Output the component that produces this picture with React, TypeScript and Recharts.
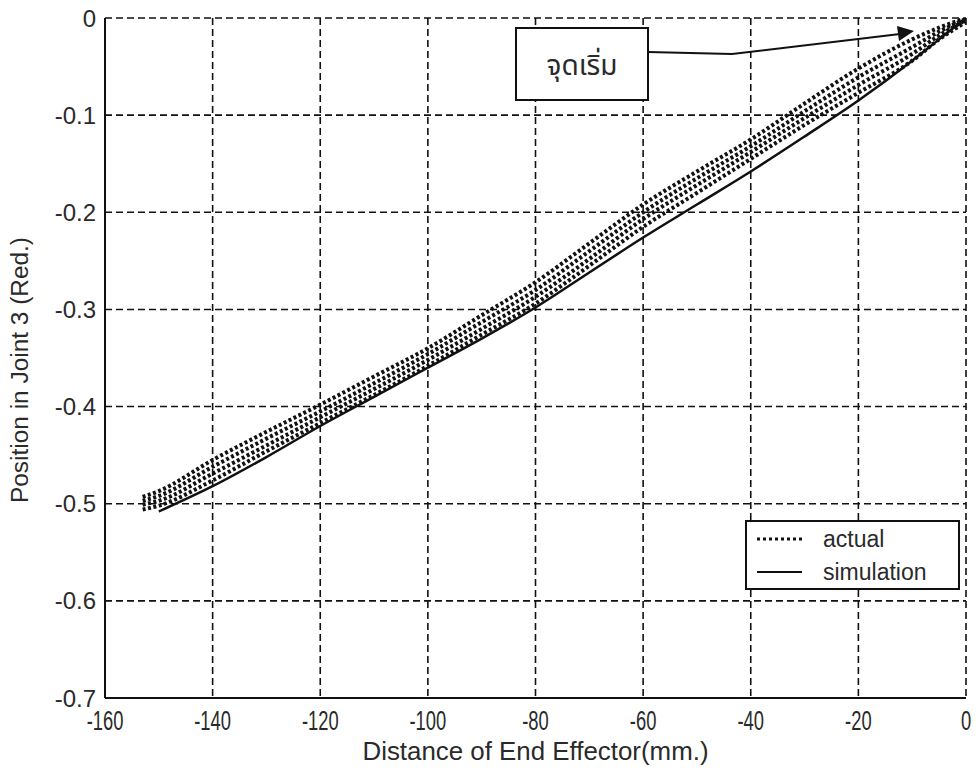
import { LineChart, Line, XAxis, YAxis, CartesianGrid, Legend, Label } from 'recharts';

// axis ticks
const X_TICKS = [-160, -140, -120, -100, -80, -60, -40, -20, 0];
const Y_TICKS = [-0.7, -0.6, -0.5, -0.4, -0.3, -0.2, -0.1, 0];

// measured joint 3 position, four passes over the same path
const ACTUAL_X = [-153, -150, -140, -130, -120, -110, -100, -90, -80, -70, -60, -50, -40, -30, -20, -10, -5, 0];
const ACTUAL_RUN_1 = [-0.493, -0.487, -0.455, -0.426, -0.398, -0.369, -0.340, -0.306, -0.272, -0.232, -0.192, -0.158, -0.125, -0.088, -0.052, -0.022, -0.010, 0];
const ACTUAL_RUN_2 = [-0.497, -0.492, -0.462, -0.433, -0.405, -0.376, -0.346, -0.313, -0.280, -0.240, -0.200, -0.165, -0.132, -0.096, -0.061, -0.030, -0.014, -0.001];
const ACTUAL_RUN_3 = [-0.501, -0.497, -0.469, -0.440, -0.411, -0.382, -0.352, -0.320, -0.287, -0.248, -0.207, -0.172, -0.138, -0.103, -0.069, -0.037, -0.018, -0.002];
const ACTUAL_RUN_4 = [-0.506, -0.502, -0.476, -0.446, -0.417, -0.388, -0.358, -0.326, -0.294, -0.255, -0.215, -0.180, -0.145, -0.110, -0.077, -0.044, -0.022, -0.004];

// simulated joint 3 position
const SIM_X = [-150, -140, -130, -120, -110, -100, -90, -80, -70, -60, -50, -40, -30, -20, -10, -5, 0];
const SIM_Y = [-0.508, -0.482, -0.452, -0.420, -0.390, -0.360, -0.330, -0.298, -0.262, -0.226, -0.192, -0.158, -0.122, -0.085, -0.044, -0.022, 0];

const toPoints = (xs: number[], ys: number[]) => xs.map((x, i) => ({ x, y: ys[i] }));

const ACTUAL_RUNS = [ACTUAL_RUN_1, ACTUAL_RUN_2, ACTUAL_RUN_3, ACTUAL_RUN_4];

const INK = '#111';
const TEXT = '#2a2a2a';
const SANS = "'Liberation Sans', Arial, sans-serif";
const THAI = "'Noto Sans Thai', 'Noto Sans Thai UI', Loma, Garuda, 'Tlwg Typo', 'Noto Sans', 'DejaVu Sans', sans-serif";

// x tick labels are set in a squeezed face
function renderXTick(props: any) {
  const { x, y, payload } = props;
  return (
    <g transform={`translate(${x},${y + 11})`}>
      <text
        transform="scale(0.68,1)"
        textAnchor="middle"
        dy={19}
        style={{ fontFamily: SANS, fontSize: 27, fill: TEXT }}
      >
        {payload.value}
      </text>
    </g>
  );
}

function XTitle({ viewBox }: any) {
  const cx = viewBox.x + viewBox.width / 2;
  return (
    <text
      x={cx}
      y={760}
      textAnchor="middle"
      fontFamily={SANS}
      fontSize={26}
      fill={TEXT}
      textLength={346}
      lengthAdjust="spacingAndGlyphs"
    >
      Distance of End Effector(mm.)
    </text>
  );
}

function YTitle({ viewBox }: any) {
  const cy = viewBox.y + viewBox.height / 2 + 12;
  return (
    <text
      x={20}
      y={cy}
      transform={`rotate(-90, 20, ${cy})`}
      textAnchor="middle"
      dominantBaseline="central"
      fontFamily={SANS}
      fontSize={23}
      fill={TEXT}
      textLength={266}
      lengthAdjust="spacingAndGlyphs"
    >
      Position in Joint 3 (Red.)
    </text>
  );
}

function LegendBox() {
  return (
    <div
      style={{
        width: 211,
        height: 66,
        border: `2px solid ${INK}`,
        background: '#fff',
        fontFamily: SANS,
        fontSize: 23,
        color: TEXT,
        boxSizing: 'content-box',
      }}
    >
      {[
        { name: 'actual', dash: '3 3' },
        { name: 'simulation', dash: undefined },
      ].map((item) => (
        <div key={item.name} style={{ display: 'flex', alignItems: 'center', height: 32, marginTop: 1 }}>
          <svg width={66} height={10} style={{ marginLeft: 10 }}>
            <line x1={0} y1={5} x2={45} y2={5} stroke={INK} strokeWidth={item.dash ? 3 : 2} strokeDasharray={item.dash} />
          </svg>
          <span>{item.name}</span>
        </div>
      ))}
    </div>
  );
}

export default function App() {
  return (
    <div style={{ position: 'absolute', left: 0, top: 0, width: 976, height: 778, background: '#fff' }}>
      <LineChart width={976} height={778} margin={{ top: 18, right: 10, bottom: 0, left: 0 }}>
        <CartesianGrid stroke={INK} strokeWidth={1.6} strokeDasharray="7 4" horizontalValues={Y_TICKS} verticalValues={X_TICKS} />
        <XAxis
          type="number"
          dataKey="x"
          domain={[-160, 0]}
          ticks={X_TICKS}
          allowDataOverflow
          height={80}
          axisLine={{ stroke: INK, strokeWidth: 2 }}
          tickLine={false}
          tickSize={0}
          tick={renderXTick}
        >
          <Label content={XTitle} />
        </XAxis>
        <YAxis
          type="number"
          dataKey="y"
          domain={[-0.7, 0]}
          ticks={Y_TICKS}
          allowDataOverflow
          width={105}
          axisLine={{ stroke: INK, strokeWidth: 2 }}
          tickLine={false}
          tickMargin={3}
          tickFormatter={(v: number) => (v === 0 ? '0' : v.toFixed(1))}
          tick={{ fontFamily: SANS, fontSize: 24, fill: TEXT }}
        >
          <Label content={YTitle} />
        </YAxis>
        {ACTUAL_RUNS.map((run, i) => (
          <Line
            key={i}
            data={toPoints(ACTUAL_X, run)}
            dataKey="y"
            name={i === 0 ? 'actual' : `actual ${i + 1}`}
            type="monotone"
            stroke={INK}
            strokeWidth={4}
            strokeDasharray="3 2.5"
            dot={false}
            isAnimationActive={false}
          />
        ))}
        <Line
          data={toPoints(SIM_X, SIM_Y)}
          dataKey="y"
          name="simulation"
          type="monotone"
          stroke={INK}
          strokeWidth={2.5}
          dot={false}
          isAnimationActive={false}
        />
        <Legend
          layout="horizontal"
          verticalAlign="middle"
          align="center"
          wrapperStyle={{ left: 745, top: 520, width: 215 }}
          content={() => <LegendBox />}
        />
      </LineChart>
      <svg
        width={976}
        height={778}
        style={{ position: 'absolute', left: 0, top: 0, pointerEvents: 'none' }}
      >
        <rect x={516} y={28} width={132} height={72} fill="#fff" stroke={INK} strokeWidth={2} />
        <text x={582} y={66} textAnchor="middle" dominantBaseline="central" fontFamily={THAI} fontSize={28} fill={TEXT}>
          จุดเริ่ม
        </text>
        <polyline points="648,52 732,54 900,34" fill="none" stroke={INK} strokeWidth={2} />
        <polygon points="914,31 897,26 899,41" fill={INK} />
      </svg>
    </div>
  );
}
